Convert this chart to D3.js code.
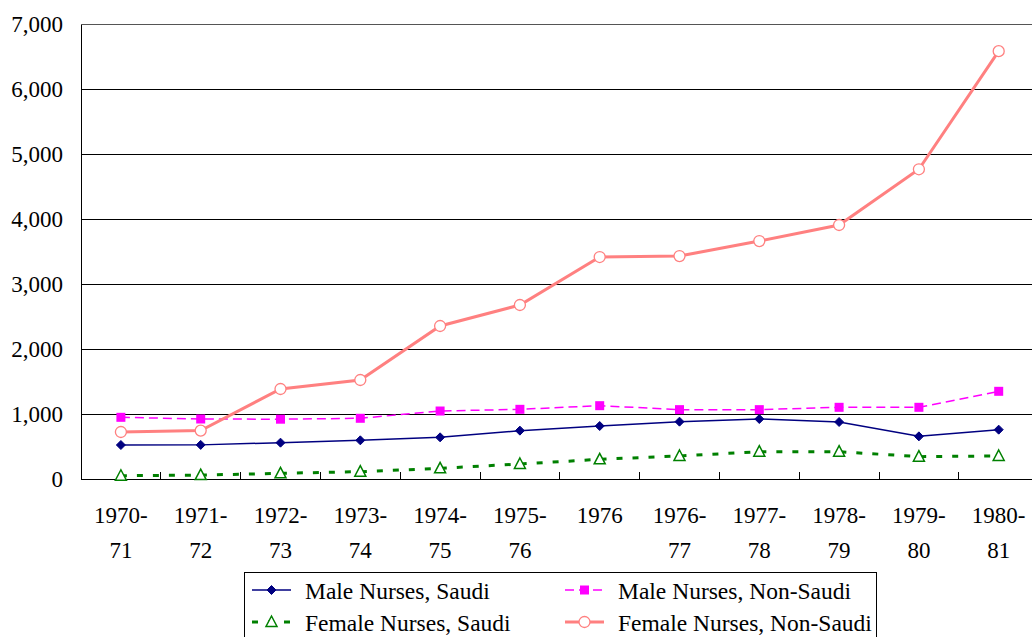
<!DOCTYPE html>
<html>
<head>
<meta charset="utf-8">
<script src="https://cdn.jsdelivr.net/npm/d3@7"></script>
<style>
  body { margin: 0; background: #fff; }
</style>
</head>
<body>
<svg width="1032" height="637"></svg>
<script>
  const years = ['1970-71', '1971-72', '1972-73', '1973-74', '1974-75', '1975-76',
    '1976', '1976-77', '1977-78', '1978-79', '1979-80', '1980-81']

  const maleSaudi = [523, 525, 559, 595, 641, 744, 815, 882, 923, 877, 656, 759]
  const maleNonSaudi = [949, 923, 920, 934, 1046, 1072, 1128, 1067, 1067, 1103, 1103, 1349]
  const femaleSaudi = [50, 60, 87, 113, 164, 231, 303, 354, 420, 420, 344, 354]
  const femaleNonSaudi = [723, 745, 1385, 1523, 2354, 2677, 3415, 3430, 3661, 3908, 4765, 6582]

  const yTicks = [0, 1000, 2000, 3000, 4000, 5000, 6000, 7000]

  const series = [
    { name: 'Male Nurses, Saudi', values: maleSaudi, color: '#000080', width: 1.5, dash: null, marker: 'diamond' },
    { name: 'Male Nurses, Non-Saudi', values: maleNonSaudi, color: '#ff00ff', width: 1.5, dash: '9,5', marker: 'square' },
    { name: 'Female Nurses, Saudi', values: femaleSaudi, color: '#008000', width: 3, dash: '6,10', marker: 'triangle' },
    { name: 'Female Nurses, Non-Saudi', values: femaleNonSaudi, color: '#ff8080', width: 3, dash: null, marker: 'circle' }
  ]

  const serif = 'Liberation Serif'
  const fontSize = 23
  const svg = d3.select('svg')
  const plotLeft = 81, plotTop = 24, plotBottom = 479, step = 79.8

  const x = d3.scaleBand().domain(years).range([plotLeft, plotLeft + step * years.length]).padding(0)
  const y = d3.scaleLinear().domain([0, 7000]).range([plotBottom, plotTop])
  const cx = function (d) { return x(d) + x.bandwidth() / 2 }

  // gridlines
  svg.append('g').selectAll('line').data(yTicks.slice(1)).enter().append('line')
    .attr('x1', plotLeft).attr('x2', 1032)
    .attr('y1', function (d) { return y(d) }).attr('y2', function (d) { return y(d) })
    .attr('stroke', function (d) { return d === 7000 ? '#555' : '#000' })
    .attr('stroke-width', 1).attr('shape-rendering', 'crispEdges')

  // y axis
  const yAxis = d3.axisLeft(y).tickValues(yTicks).tickSize(0).tickPadding(18).tickFormat(d3.format(','))
  const gy = svg.append('g').attr('transform', 'translate(' + plotLeft + ',0)').call(yAxis)
  gy.select('.domain').attr('stroke', '#000').attr('shape-rendering', 'crispEdges')
  gy.selectAll('text').style('font-family', serif).style('font-size', fontSize + 'px').attr('fill', '#000')

  // x axis
  svg.append('line').attr('x1', plotLeft).attr('x2', 1032).attr('y1', plotBottom).attr('y2', plotBottom)
    .attr('stroke', '#000').attr('shape-rendering', 'crispEdges')
  svg.append('g').selectAll('line').data(years.slice(1)).enter().append('line')
    .attr('x1', function (d) { return x(d) }).attr('x2', function (d) { return x(d) })
    .attr('y1', plotBottom).attr('y2', plotBottom - 7)
    .attr('stroke', '#000').attr('shape-rendering', 'crispEdges')

  const xl = svg.append('g').selectAll('text').data(years).enter().append('text')
    .attr('text-anchor', 'middle').attr('fill', '#000')
    .style('font-family', serif).style('font-size', fontSize + 'px')
  xl.each(function (d) {
    const parts = d.split('-')
    const t = d3.select(this)
    t.append('tspan').attr('x', cx(d)).attr('y', 523).text(parts.length > 1 ? parts[0] + '-' : parts[0])
    if (parts.length > 1) t.append('tspan').attr('x', cx(d)).attr('y', 558).text(parts[1])
  })

  const line = d3.line().x(function (d, i) { return cx(years[i]) }).y(function (d) { return y(d) })

  function drawMarker (g, type, color, px, py) {
    if (type === 'diamond') {
      g.append('path').attr('d', 'M' + px + ',' + (py - 4.5) + 'L' + (px + 4.5) + ',' + py + 'L' + px + ',' + (py + 4.5) + 'L' + (px - 4.5) + ',' + py + 'Z')
        .attr('fill', color).attr('stroke', color)
    } else if (type === 'square') {
      g.append('rect').attr('x', px - 4.5).attr('y', py - 4.5).attr('width', 9).attr('height', 9).attr('fill', color)
    } else if (type === 'triangle') {
      g.append('path').attr('d', 'M' + px + ',' + (py - 6) + 'L' + (px + 5.5) + ',' + (py + 4.5) + 'L' + (px - 5.5) + ',' + (py + 4.5) + 'Z')
        .attr('fill', '#fff').attr('stroke', color).attr('stroke-width', 1.5)
    } else {
      g.append('circle').attr('cx', px).attr('cy', py).attr('r', 5.5)
        .attr('fill', '#fff').attr('stroke', color).attr('stroke-width', 1.3)
    }
  }

  // draw order: green first, salmon last on top
  const order = [2, 0, 1, 3]
  order.forEach(function (k) {
    const s = series[k]
    const g = svg.append('g')
    g.append('path').datum(s.values).attr('d', line).attr('fill', 'none')
      .attr('stroke', s.color).attr('stroke-width', s.width)
      .attr('stroke-dasharray', s.dash)
    s.values.forEach(function (v, i) {
      drawMarker(g, s.marker, s.color, cx(years[i]), y(v))
    })
  })

  // legend
  const lg = svg.append('g')
  lg.append('rect').attr('x', 244.5).attr('y', 572.5).attr('width', 632).attr('height', 80)
    .attr('fill', '#fff').attr('stroke', '#000')
  const pos = [[252, 590], [565, 590], [252, 622], [565, 622]]
  series.forEach(function (s, i) {
    const p = pos[i]
    lg.append('line').attr('x1', p[0]).attr('x2', p[0] + 39).attr('y1', p[1]).attr('y2', p[1])
      .attr('stroke', s.color).attr('stroke-width', s.width).attr('stroke-dasharray', s.dash)
    drawMarker(lg, s.marker, s.color, p[0] + 19.5, p[1])
    lg.append('text').attr('x', p[0] + 53).attr('y', p[1] + 8.5).attr('fill', '#000')
      .style('font-family', serif).style('font-size', '23.5px').text(s.name)
  })
</script>
</body>
</html>
